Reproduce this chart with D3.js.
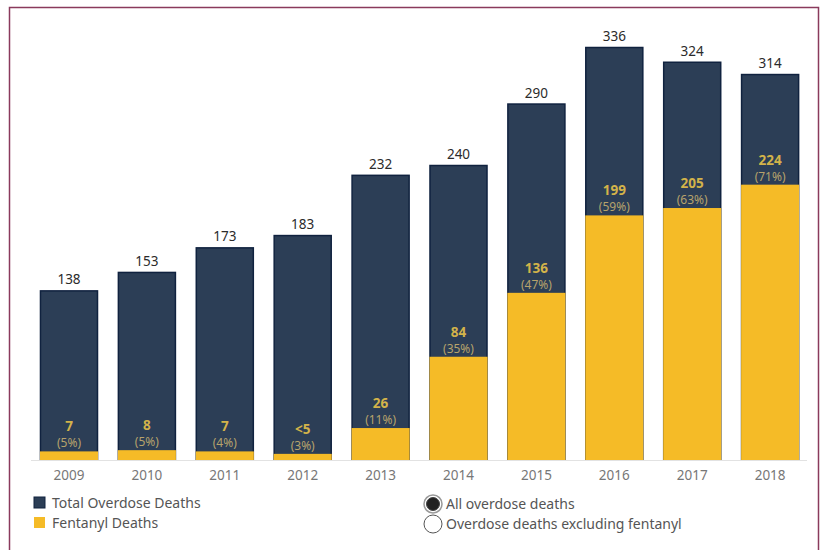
<!DOCTYPE html>
<html>
<head>
<meta charset="utf-8">
<script src="https://cdn.jsdelivr.net/npm/d3@7"></script>
<style>
  body { margin: 0; background: #fff; }
  svg text { font-family: "Noto Sans", sans-serif; }
</style>
</head>
<body>
<div id="chart"></div>
<script>
// data
const years = ["2009", "2010", "2011", "2012", "2013", "2014", "2015", "2016", "2017", "2018"];
const totalDeaths = [138, 153, 173, 183, 232, 240, 290, 336, 324, 314];
const fentanylDeaths = [7, 8, 7, 5, 26, 84, 136, 199, 205, 224];
const fentanylLabels = ["7", "8", "7", "<5", "26", "84", "136", "199", "205", "224"];
const fentanylPct = ["5%", "5%", "4%", "3%", "11%", "35%", "47%", "59%", "63%", "71%"];
const legendItems = ["Total Overdose Deaths", "Fentanyl Deaths"];
const radioItems = ["All overdose deaths", "Overdose deaths excluding fentanyl"];

const W = 820, H = 550;
const navy = "#2c3e56", navyEdge = "#10223f", gold = "#f5bb27";

const svg = d3.select("#chart").append("svg")
    .attr("width", W)
    .attr("height", H);

// frame around the view (no bottom edge visible)
svg.append("path")
    .attr("d", `M9.5,${H} V7.5 H818.5 V${H}`)
    .attr("fill", "none")
    .attr("stroke", "#8a3a5c")
    .attr("stroke-width", 1.5);

const x = d3.scaleBand()
    .domain(years)
    .range([35.3, 803.8])
    .paddingInner(0.255)
    .paddingOuter(0.06);

const y = d3.scaleLinear()
    .domain([0, 336])
    .range([460, 47]);

const data = years.map((yr, i) => ({
    year: yr,
    total: totalDeaths[i],
    fent: fentanylDeaths[i],
    fentLabel: fentanylLabels[i],
    pct: fentanylPct[i]
}));

// total bars
svg.selectAll(".total")
    .data(data)
    .enter().append("rect")
    .attr("class", "total")
    .attr("x", d => x(d.year) + 0.5)
    .attr("y", d => y(d.total) + 0.5)
    .attr("width", x.bandwidth() - 1)
    .attr("height", d => y(0) - y(d.total) - 0.5)
    .attr("fill", navy)
    .attr("stroke", navyEdge)
    .attr("stroke-width", 1.5);

// fentanyl bars
svg.selectAll(".fent")
    .data(data)
    .enter().append("rect")
    .attr("class", "fent")
    .attr("x", d => x(d.year))
    .attr("y", d => y(d.fent))
    .attr("width", x.bandwidth())
    .attr("height", d => y(0) - y(d.fent))
    .attr("fill", gold);

// baseline
svg.append("line")
    .attr("x1", 31).attr("x2", 807)
    .attr("y1", y(0) + 0.5).attr("y2", y(0) + 0.5)
    .attr("stroke", "#e2e2e2")
    .attr("stroke-width", 1);

// x axis labels
const xAxis = svg.append("g")
    .attr("transform", `translate(0, ${y(0)})`)
    .call(d3.axisBottom(x).tickSize(0).tickPadding(10));
xAxis.select(".domain").remove();
xAxis.selectAll("text")
    .style("font-family", "Noto Sans, sans-serif")
    .style("font-size", "13.5px")
    .attr("fill", "#777");

// total labels
svg.selectAll(".totLabel")
    .data(data)
    .enter().append("text")
    .attr("x", d => x(d.year) + x.bandwidth() / 2)
    .attr("y", d => y(d.total) - 6)
    .attr("text-anchor", "middle")
    .style("font-size", "13.5px")
    .attr("fill", "#2b2b2b")
    .text(d => d.total);

// fentanyl labels
svg.selectAll(".fentLabel")
    .data(data)
    .enter().append("text")
    .attr("x", d => x(d.year) + x.bandwidth() / 2)
    .attr("y", d => y(d.fent) - 20)
    .attr("text-anchor", "middle")
    .style("font-size", "13.5px")
    .style("font-weight", "bold")
    .attr("fill", "#d3b34a")
    .text(d => d.fentLabel);

svg.selectAll(".pctLabel")
    .data(data)
    .enter().append("text")
    .attr("x", d => x(d.year) + x.bandwidth() / 2)
    .attr("y", d => y(d.fent) - 4)
    .attr("text-anchor", "middle")
    .style("font-size", "12px")
    .attr("fill", "#b7a36c")
    .text(d => `(${d.pct})`);

// legend
const legend = svg.append("g").attr("transform", "translate(34, 497)");
legend.selectAll("rect")
    .data(legendItems)
    .enter().append("rect")
    .attr("x", 0)
    .attr("y", (d, i) => i * 20)
    .attr("width", 11)
    .attr("height", 11)
    .attr("fill", (d, i) => i === 0 ? navy : gold)
    .attr("stroke", (d, i) => i === 0 ? navyEdge : "none");
legend.selectAll("text")
    .data(legendItems)
    .enter().append("text")
    .attr("x", 18)
    .attr("y", (d, i) => i * 20 + 11)
    .style("font-size", "14px")
    .attr("fill", "#555")
    .text(d => d);

// radio buttons
const radios = svg.append("g").attr("transform", "translate(433, 504)");
radios.selectAll("circle.outer")
    .data(radioItems)
    .enter().append("circle")
    .attr("class", "outer")
    .attr("cx", 0)
    .attr("cy", (d, i) => i * 20)
    .attr("r", 9)
    .attr("fill", "#fff")
    .attr("stroke", (d, i) => i === 0 ? "#999" : "#555")
    .attr("stroke-width", (d, i) => i === 0 ? 1.5 : 1);
radios.append("circle")
    .attr("cx", 0).attr("cy", 0)
    .attr("r", 6.5)
    .attr("fill", "#222")
    .attr("stroke", "#444");
radios.selectAll("text")
    .data(radioItems)
    .enter().append("text")
    .attr("x", 13)
    .attr("y", (d, i) => i * 20 + 5)
    .style("font-size", "14px")
    .attr("fill", "#555")
    .text(d => d);
</script>
</body>
</html>
